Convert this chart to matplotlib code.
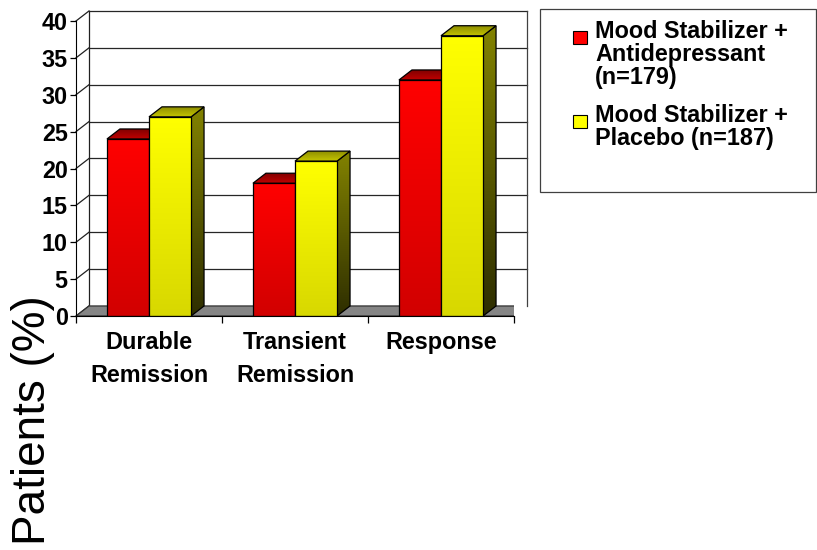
import numpy as np
import matplotlib
matplotlib.use("Agg")
import matplotlib.pyplot as plt
from matplotlib.patches import Polygon, Rectangle
from matplotlib.colors import to_rgb

categories = ["Durable\nRemission", "Transient\nRemission", "Response"]
antidepressant = [24, 18, 32]
placebo = [27, 21, 38]
series_labels = ["Mood Stabilizer +\nAntidepressant\n(n=179)",
                 "Mood Stabilizer +\nPlacebo (n=187)"]
yticks = list(range(0, 45, 5))

# 3-D look: depth offset of the back wall in data units
DX, DY = 0.089, 1.36
BAR_W = 0.288
FS = 16.8

plt.rcParams["font.family"] = ["Liberation Sans", "DejaVu Sans"]

fig = plt.figure(figsize=(8.17, 5.5), dpi=100)
ax = fig.add_axes([76 / 817, 1 - 316 / 550, 438 / 817, 295 / 550])
ax.set_xlim(0, 3)
ax.set_ylim(0, 40)


def gradient_poly(verts, c0, c1, z):
    """Fill a polygon with a vertical linear gradient from c0 (top) to c1."""
    verts = np.asarray(verts)
    x0, y0 = verts.min(axis=0)
    x1, y1 = verts.max(axis=0)
    t = np.linspace(0, 1, 64)[:, None]
    cols = (1 - t) * np.array(to_rgb(c0)) + t * np.array(to_rgb(c1))
    img = cols[:, None, :]  # rows top -> bottom
    im = ax.imshow(img, extent=(x0, x1, y0, y1), origin="upper",
                   aspect="auto", zorder=z, interpolation="bilinear")
    patch = Polygon(verts, closed=True, facecolor="none",
                    edgecolor="black", lw=0.9, zorder=z + 0.1)
    ax.add_patch(patch)
    im.set_clip_path(patch)


# floor
floor = [(0, 0), (3, 0), (3 + DX, DY), (DX, DY)]
ax.add_patch(Polygon(floor, closed=True, facecolor="#858585",
                     edgecolor="#303030", lw=0.9, zorder=1))

# back wall gridlines and left wall diagonals
for v in yticks[1:]:
    ax.plot([DX, 3 + DX], [v + DY, v + DY], color="#262626", lw=0.9,
            zorder=0.5, clip_on=False)
for v in yticks:
    ax.plot([0, DX], [v, v + DY], color="#202020", lw=0.9, zorder=0.6,
            clip_on=False)
ax.plot([DX, DX], [DY, 40 + DY], color="#202020", lw=0.9, zorder=0.6,
        clip_on=False)
ax.plot([3 + DX, 3 + DX], [DY, 40 + DY], color="#404040", lw=0.9,
        zorder=0.6, clip_on=False)

# bars
z = 2
for i, (ha, hp) in enumerate(zip(antidepressant, placebo)):
    c = i + 0.5
    for x0, h, front, top, side in [
            (c - BAR_W, ha, ("#ff0000", "#d20000"), ("#c00000", "#7a0000"),
             ("#8a0000", "#400000")),
            (c, hp, ("#ffff00", "#d8d800"), ("#c4c400", "#8a8a00"),
             ("#828200", "#2e2e00"))]:
        x1 = x0 + BAR_W
        gradient_poly([(x1, 0), (x1 + DX, DY), (x1 + DX, h + DY), (x1, h)],
                      *side, z)
        gradient_poly([(x0, 0), (x1, 0), (x1, h), (x0, h)], *front, z + 1)
        gradient_poly([(x0, h), (x1, h), (x1 + DX, h + DY), (x0 + DX, h + DY)],
                      top[1], top[0], z + 1)
        z += 2

# axes, ticks, labels
for s in ("top", "right"):
    ax.spines[s].set_visible(False)
ax.spines["left"].set_zorder(20)
ax.spines["bottom"].set_zorder(20)
ax.set_yticks(yticks)
ax.set_yticklabels([str(v) for v in yticks], fontsize=FS,
                   fontweight="bold")
ax.tick_params(axis="y", direction="out", length=4, width=0.9, pad=2)
ax.set_xticks([0, 1, 2, 3])
ax.set_xticklabels([])
ax.tick_params(axis="x", which="major", direction="out", length=5,
               width=0.9)
ax.set_xticks([0.5, 1.5, 2.5], minor=True)
ax.set_xticklabels(categories, minor=True, fontsize=FS,
                   fontweight="bold", linespacing=1.55, va="top")
ax.tick_params(axis="x", which="minor", length=0, pad=11)

fig.text(0.04, 1 - 420 / 550, "Patients (%)", rotation=90, fontsize=33,
         ha="center", va="center")

# legend box
fig.patches.append(Rectangle((540 / 817, 1 - 192 / 550), 276 / 817,
                             183 / 550, transform=fig.transFigure,
                             facecolor="white", edgecolor="#404040", lw=0.9))
for lbl, color, ytop in [(series_labels[0], "#ff0000", 20),
                         (series_labels[1], "#ffff00", 104)]:
    fig.patches.append(Rectangle((573 / 817, 1 - (ytop + 24) / 550),
                                 14 / 817, 13 / 550,
                                 transform=fig.transFigure, facecolor=color,
                                 edgecolor="black", lw=0.8))
    fig.text(595 / 817, 1 - ytop / 550, lbl, fontsize=FS,
             fontweight="bold", ha="left", va="top", linespacing=1.0)

fig.savefig("out.png", dpi=100)
